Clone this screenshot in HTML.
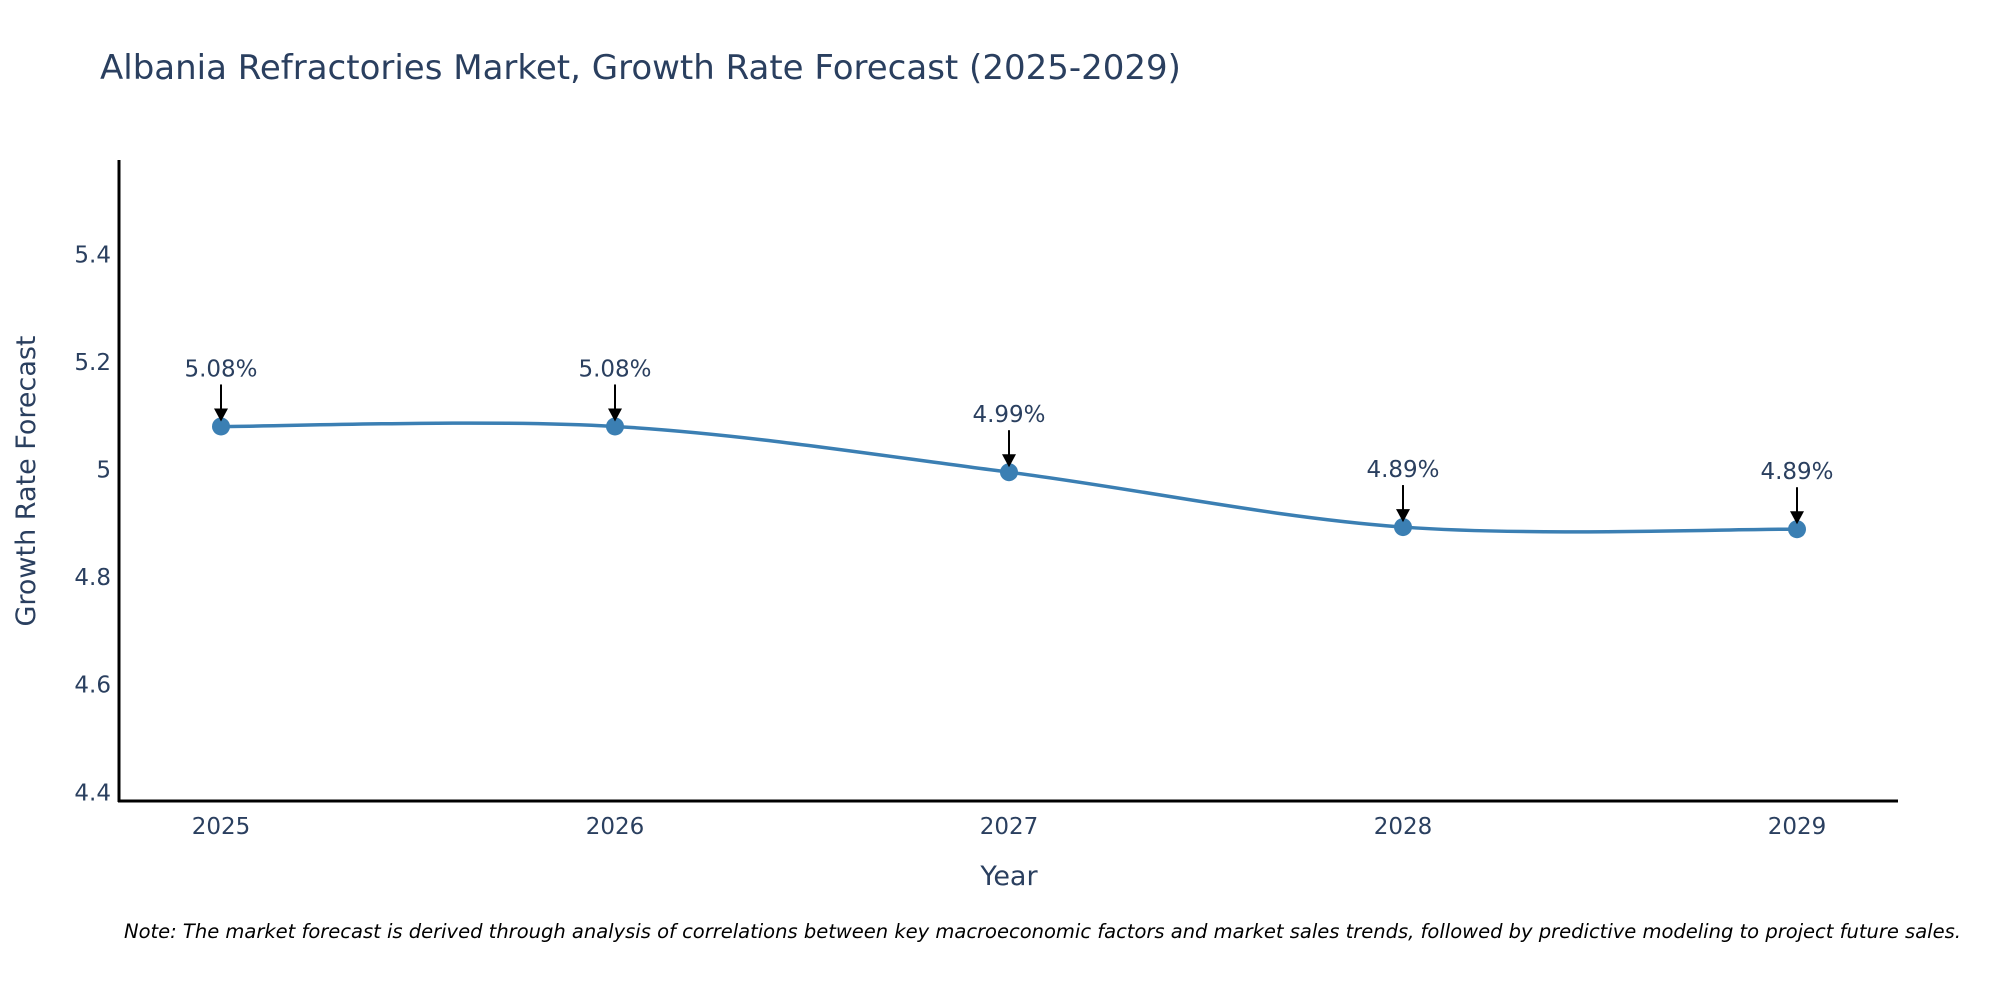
<!DOCTYPE html>
<html><head><meta charset="utf-8">
<style>
html,body{margin:0;padding:0;background:#fff;}
svg{display:block;font-family:"DejaVu Sans","Liberation Sans",sans-serif;}
</style></head>
<body>
<svg id="chart" width="2000" height="1000" viewBox="0 0 2000 1000" xmlns="http://www.w3.org/2000/svg">
<text x="100" y="79" font-size="34" fill="#2a3f5f">Albania Refractories Market, Growth Rate Forecast (2025-2029)</text>
<g id="yticks"></g>
<g id="xticks"></g>
<line x1="119" y1="160" x2="119" y2="802" stroke="#000" stroke-width="3"/>
<line x1="118" y1="801" x2="1898" y2="801" stroke="#000" stroke-width="3"/>
<text transform="translate(35,481) rotate(-90)" text-anchor="middle" font-size="27" fill="#2a3f5f">Growth Rate Forecast</text>
<text x="1009" y="885" text-anchor="middle" font-size="27" fill="#2a3f5f">Year</text>
<g id="series"></g>
<g id="annotations"></g>
<text x="124" y="938" font-size="19.5" font-style="italic" fill="#000">Note: The market forecast is derived through analysis of correlations between key macroeconomic factors and market sales trends, followed by predictive modeling to project future sales.</text>
</svg>
<script>
const years = [2025, 2026, 2027, 2028, 2029];
const growthValues = [5.08, 5.08, 4.995, 4.893, 4.889];
const valueLabels = ["5.08%", "5.08%", "4.99%", "4.89%", "4.89%"];
const yTickValues = [4.4, 4.6, 4.8, 5.0, 5.2, 5.4];
const yTickLabels = ["4.4", "4.6", "4.8", "5", "5.2", "5.4"];

const NS = "http://www.w3.org/2000/svg";
function xScale(yr){ return 221 + (yr - 2025) * 394; }
function yScale(v){ return 469.5 - (v - 5.0) * 538; }
function mk(tag, attrs, parent){
  const el = document.createElementNS(NS, tag);
  for (const k in attrs) el.setAttribute(k, attrs[k]);
  parent.appendChild(el);
  return el;
}
const yt = document.getElementById('yticks');
yTickValues.forEach((v, i) => {
  const t = mk('text', {x: 111, y: yScale(v) + 8, 'text-anchor': 'end', 'font-size': 23, fill: '#2a3f5f'}, yt);
  
  
  t.textContent = yTickLabels[i];
});
const xt = document.getElementById('xticks');
years.forEach(yr => {
  const t = mk('text', {x: xScale(yr), y: 834, 'text-anchor': 'middle', 'font-size': 23, fill: '#2a3f5f'}, xt);
  
  
  t.textContent = yr;
});
const pts = years.map((yr, i) => [xScale(yr), yScale(growthValues[i])]);
let d = `M${pts[0][0]},${pts[0][1]}`;
const s = 1/6;
for (let i = 0; i < pts.length - 1; i++) {
  const p0 = pts[Math.max(0, i-1)], p1 = pts[i], p2 = pts[i+1], p3 = pts[Math.min(pts.length-1, i+2)];
  const c1 = [p1[0] + (p2[0]-p0[0])*s, p1[1] + (p2[1]-p0[1])*s];
  const c2 = [p2[0] - (p3[0]-p1[0])*s, p2[1] - (p3[1]-p1[1])*s];
  d += ` C${c1[0]},${c1[1]} ${c2[0]},${c2[1]} ${p2[0]},${p2[1]}`;
}
const ser = document.getElementById('series');
const line = mk('path', {d: d, fill: 'none', stroke: '#3b7fb3', 'stroke-width': 3.5}, ser);


const ann = document.getElementById('annotations');
pts.forEach((p, i) => {
  const c = mk('circle', {cx: p[0], cy: p[1], r: 9, fill: '#3b7fb3'}, ser);
  
  
  const a = mk('line', {x1: p[0], y1: p[1] - 42, x2: p[0], y2: p[1] - 16, stroke: '#000', 'stroke-width': 2}, ann);
  
  
  const h = mk('polygon', {points: `${p[0]-7},${p[1]-18} ${p[0]+7},${p[1]-18} ${p[0]},${p[1]-5}`, fill: '#000'}, ann);
  
  
  const t = mk('text', {x: p[0], y: p[1] - 50, 'text-anchor': 'middle', 'font-size': 23, fill: '#2a3f5f'}, ann);
  
  
  t.textContent = valueLabels[i];
});
</script>
</body></html>
